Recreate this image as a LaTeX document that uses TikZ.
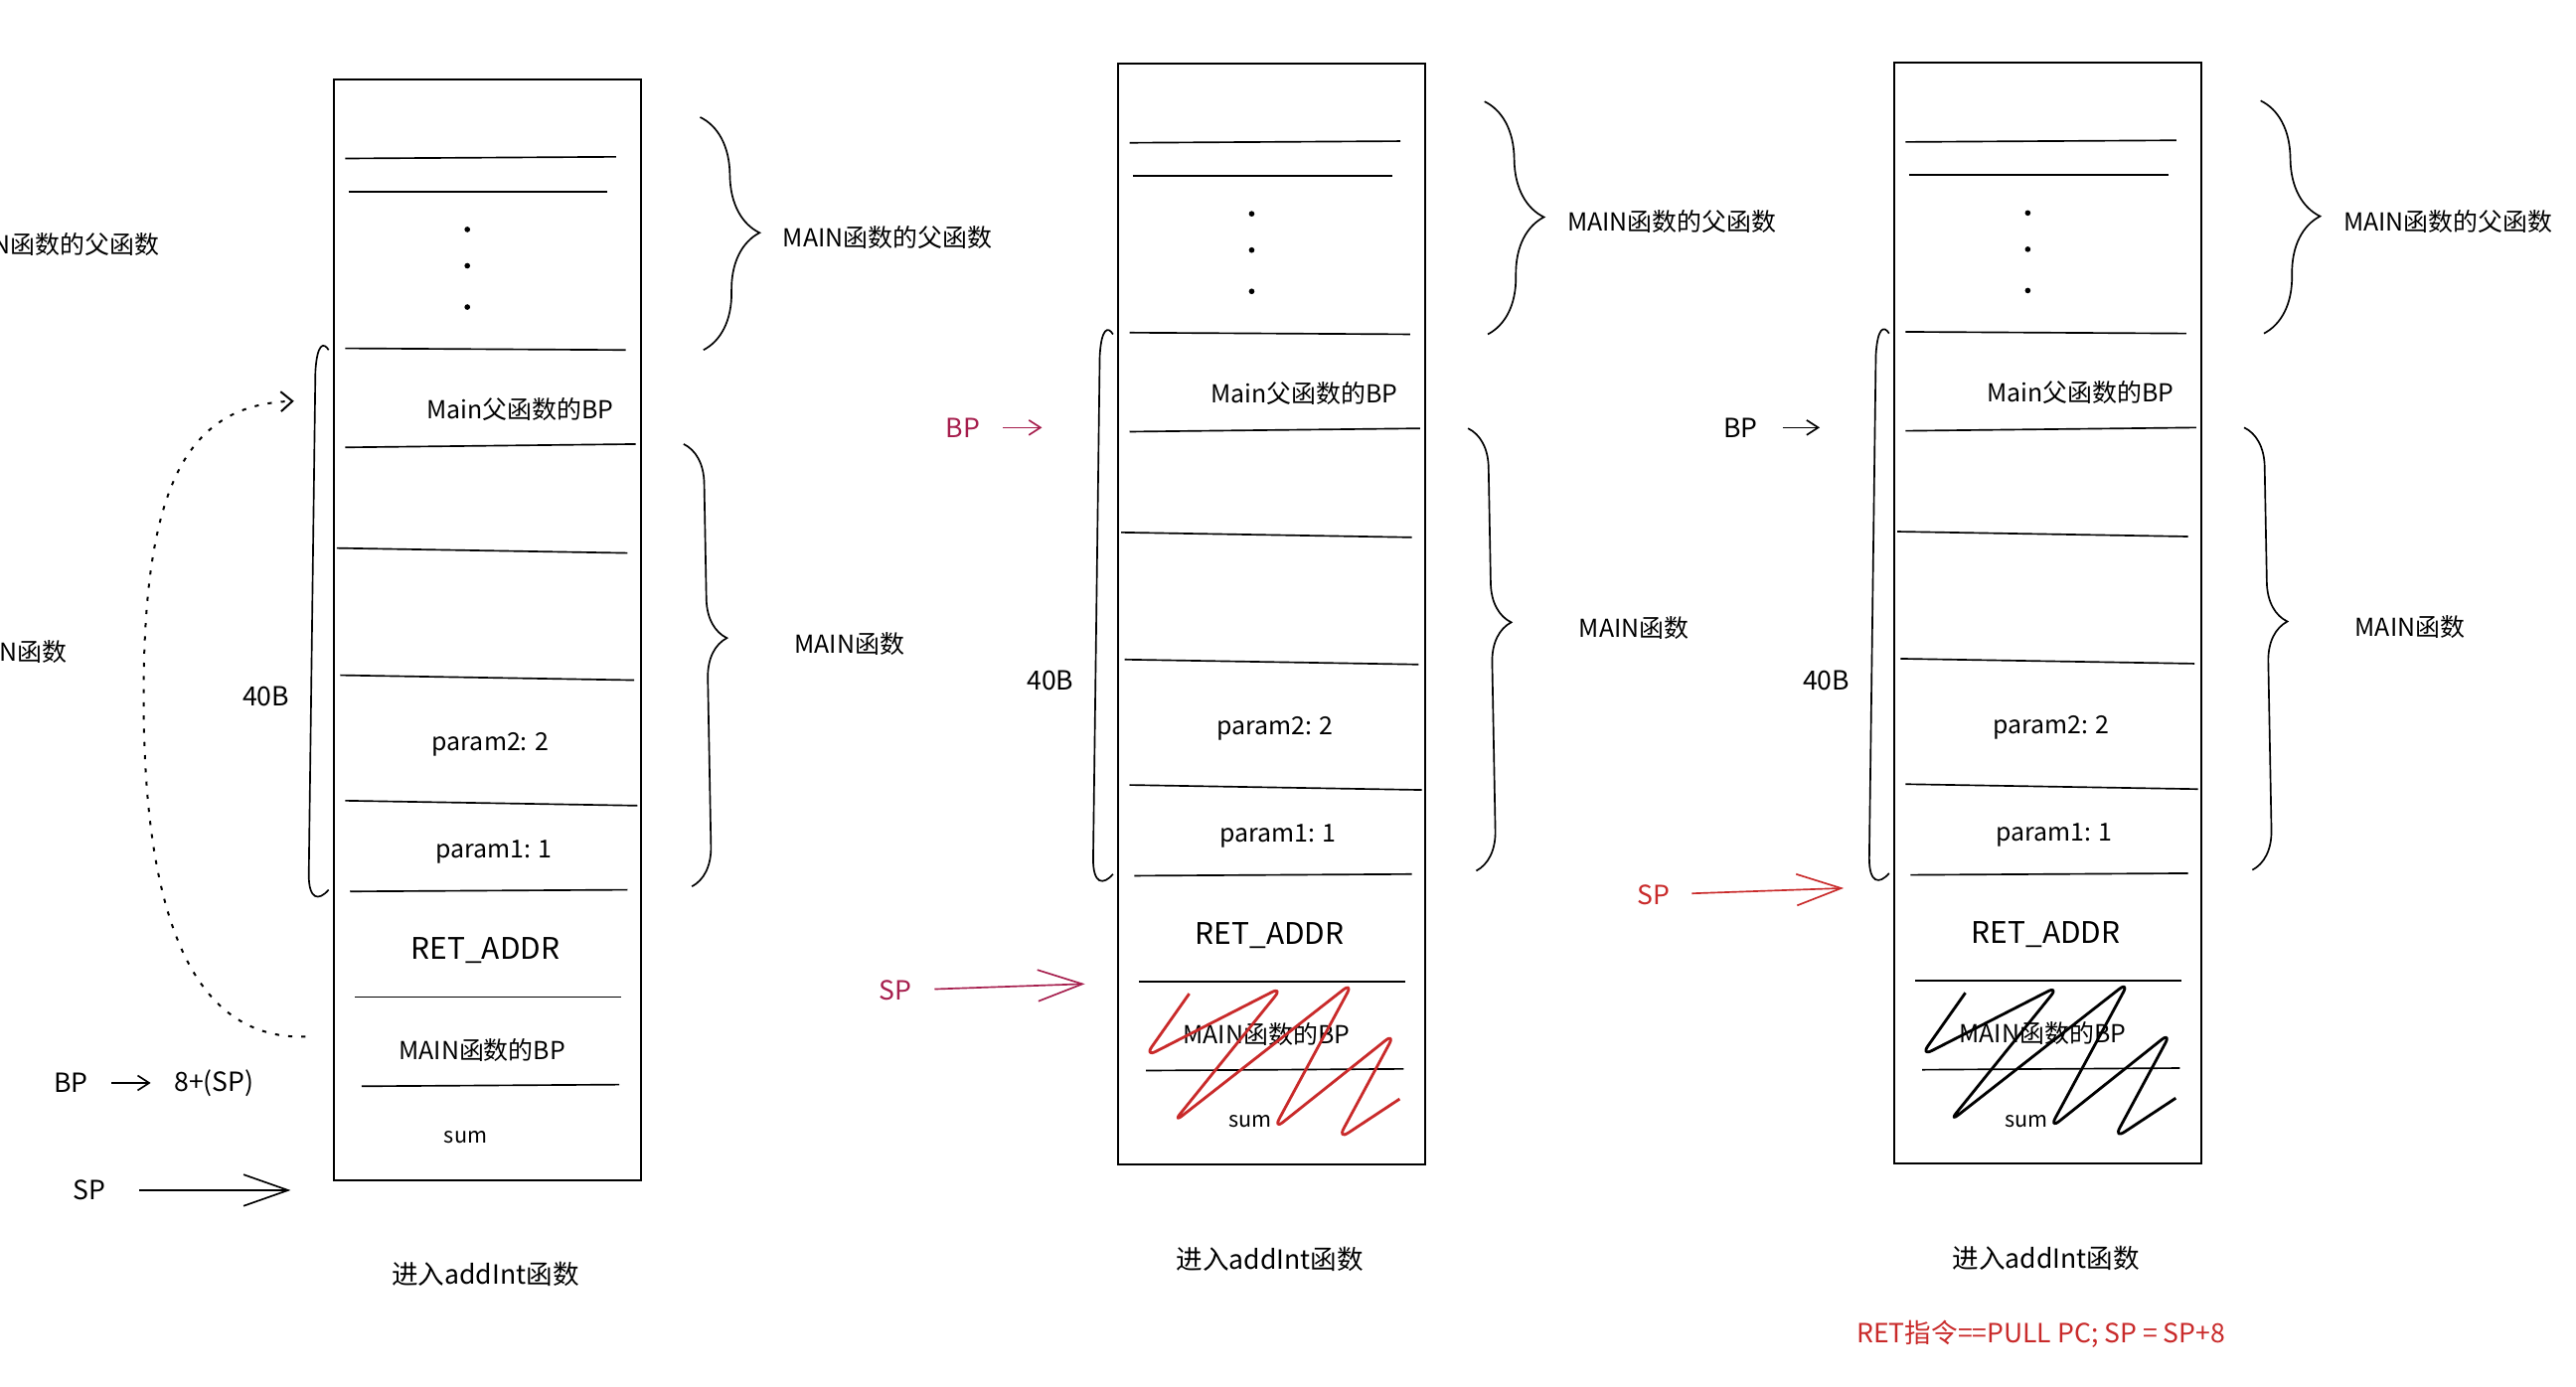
\documentclass[tikz,border=0pt]{standalone}
\usepackage{fontspec}
\setmainfont{Noto Sans CJK SC}
\usepackage{xcolor}
\usetikzlibrary{arrows.meta}
\usetikzlibrary{decorations.pathreplacing}
\definecolor{crimson}{HTML}{A61E4D}
\definecolor{scarlet}{HTML}{C92A2A}

\begin{document}
\begin{tikzpicture}[x=1pt, y=-1pt,
		frame/.style={line width=1.1pt},
		divider/.style={line width=1pt},
		celltext/.style={inner sep=1pt, font=\fontsize{15}{17}\selectfont},
		sidetext/.style={inner sep=1pt, font=\fontsize{15}{17}\selectfont},
		bigtext/.style={inner sep=1pt, font=\fontsize{16}{18}\selectfont},
		curly/.style={line width=1pt, decorate, decoration={brace, amplitude=#1}},
		pointer/.style={line width=1pt, -{Straight Barb[length=7pt, width=9pt]}},
		longpointer/.style={line width=1pt, -{Straight Barb[length=27pt, width=19pt]}},
		scribble/.style={line width=1.7pt, rounded corners=8pt, line join=round}]
				
				\fill[white] (0,0) rectangle (1560,840);
				\useasboundingbox (0,0) rectangle (1560,840);
				
				% The same stack, three times
				\foreach \i/\dx/\dy in {1/0/0, 2/475/-9.5, 3/945/-10} {
					\begin{scope}[shift={(\dx,\dy)}]
						\draw[frame] (202,48) rectangle (388,715);
						\foreach \xa/\ya/\xb/\yb in {209/96/373/95, 211/116/368/116, 209/211/379/212,
							209/271/385/269, 204/332/380/335, 206/409/384/412, 209/485/386/488,
							212/540/380/539, 215/604/376/604, 219/658/375/657}
							\draw[divider] (\xa,\ya) -- (\xb,\yb);
						\foreach \y in {139,161,186}
							\fill (283,\y) circle[radius=1.7pt];
						\node[sidetext] (mainbp\i) at (315,248) {Main父函数的BP};
						\node[celltext] (paramtwo\i) at (297,451) {param2: 2};
						\node[celltext] (paramone\i) at (299,516) {param1: 1};
						\node[inner sep=1pt, font=\fontsize{18}{20}\selectfont] (retaddr\i) at (294,576) {RET\_ADDR};
						\node[celltext] (ownbp\i) at (292,636) {MAIN函数的BP};
						\node[inner sep=1pt, font=\fontsize{13}{15}\selectfont] (sum\i) at (282,689) {sum};
						\node[bigtext] (caption\i) at (294,772) {进入addInt函数};
						
						% Braces
						\draw[curly=35pt] (424,71) -- (426,212);
						\node[sidetext, anchor=west] (parentlbl\i) at (473,144) {MAIN函数的父函数};
						\draw[curly=24pt, decoration={aspect=0.44}] (414,269) -- (419,537);
						\node[sidetext, anchor=west] (mainlbl\i) at (480,390) {MAIN函数};
						\draw[divider] (199,212) .. controls (196,207) and (192,208) .. (191,225)
							-- (187,530) .. controls (187,545) and (193,546) .. (199,539);
						\node[bigtext] (size\i) at (161,422) {40B};
					\end{scope}
				}
				
				% Left over from the frame before
				\node[sidetext, anchor=east] (oldparent) at (97.5,148) {MAIN函数的父函数};
				\node[sidetext, anchor=east] (oldmain) at (41.5,395) {MAIN函数};
				
				% Entering addInt
				\coordinate (linkfrom) at (185,628);
				\coordinate (linkto) at (178,243);
				\draw[line width=1.2pt, dash pattern=on 2.5pt off 5.5pt, -{Straight Barb[length=7pt, width=12pt]}]
					(linkfrom) .. controls (110,630) and (88,540) .. (87,430)
					.. controls (86,300) and (110,245) .. (linkto);
				\node[bigtext] (bpA) at (43,656) {BP};
				\node[bigtext] (spexpr) at (129.6,656) {8+(SP)};
				\draw[pointer, shorten <=13pt, shorten >=13pt] (bpA) -- (spexpr);
				\node[bigtext] (spA) at (54.3,721) {SP};
				\coordinate (spAtip) at (176,721);
				\draw[longpointer, shorten <=19pt] (spA) -- (spAtip);
				
				% Leaving addInt: BP restored
				\node[bigtext, text=crimson] (bpB) at (583,259) {BP};
				\coordinate (bpBtip) at (631,259);
				\draw[pointer, crimson, shorten <=13pt] (bpB) -- (bpBtip);
				\node[bigtext, text=crimson] (spB) at (542,600) {SP};
				\coordinate (spBtip) at (657,596);
				\draw[longpointer, crimson, shorten <=13pt] (spB) -- (spBtip);
				\draw[scribble, scarlet, shift={(475,-9.5)}] (245.2,611.4) -- (218,650) -- (302,607)
					-- (235,690) -- (344.5,604.3) -- (296,694) -- (370,635) -- (335,700) -- (372.6,675.2);
				
				% After RET
				\node[bigtext] (bpC) at (1054,259) {BP};
				\coordinate (bpCtip) at (1102,259);
				\draw[pointer, shorten <=14pt] (bpC) -- (bpCtip);
				\node[bigtext, text=scarlet] (spC) at (1001.5,542) {SP};
				\coordinate (spCtip) at (1116.5,538);
				\draw[longpointer, scarlet, shorten <=12pt] (spC) -- (spCtip);
				\draw[scribble, shift={(945,-10)}] (245.2,611.4) -- (218,650) -- (302,607)
					-- (235,690) -- (344.5,604.3) -- (296,694) -- (370,635) -- (335,700) -- (372.6,675.2);
				\node[bigtext, text=scarlet] (retnote) at (1236,808) {RET指令==PULL PC; SP = SP+8};
				
			\end{tikzpicture}
\end{document}
